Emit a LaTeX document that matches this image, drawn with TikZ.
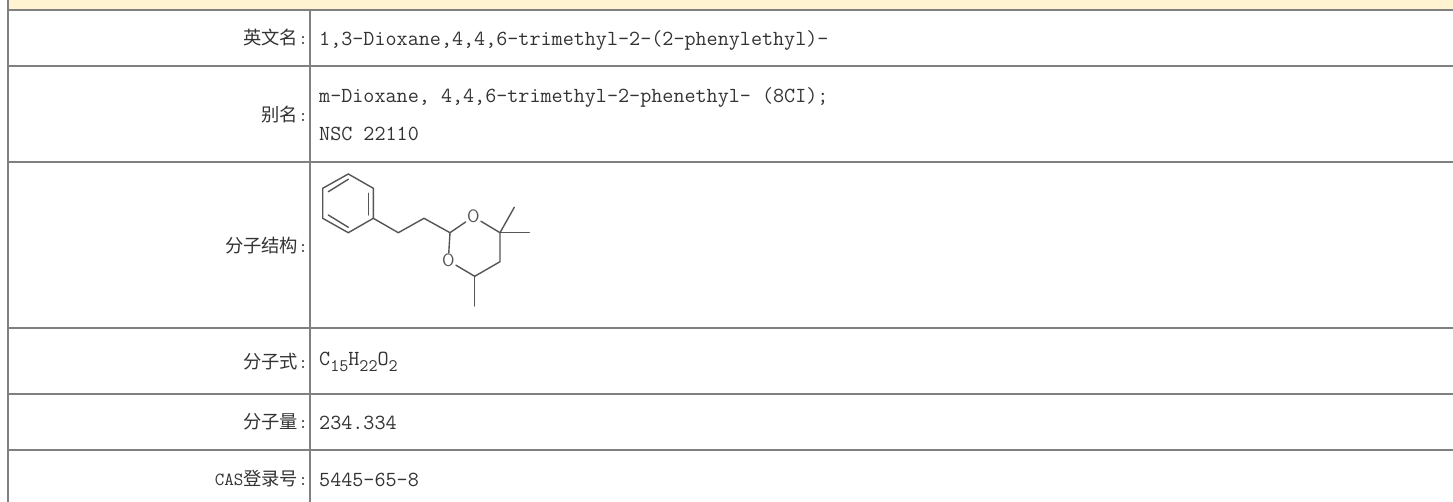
\documentclass[tikz,border=0pt]{standalone}
\usepackage{fontspec}
\setmainfont{Liberation Serif}
\newfontfamily\cjk{Noto Sans CJK SC}
\setmonofont{Latin Modern Mono}
\definecolor{rule}{HTML}{808080}
\definecolor{band}{HTML}{FFF3D2}
\definecolor{ink}{HTML}{333333}
\definecolor{bond}{HTML}{555555}
\tikzset{
  gridline/.style={draw=rule,line width=2pt},
  labeltext/.style={anchor=base east,inner sep=0pt,text=ink,font=\fontsize{18.3}{20}\selectfont\cjk},
  valuetext/.style={anchor=base west,inner sep=0pt,text=ink,font=\fontsize{21.5}{24}\selectfont\ttfamily},
  bondline/.style={draw=bond,line width=1.4pt,line cap=round},
  atomtext/.style={inner sep=1.2pt,text=bond,font=\fontsize{18}{18}\selectfont\sffamily},
}
\newcommand{\subsc}[1]{\raisebox{-6.5pt}{\fontsize{17.6}{18}\selectfont #1}}
\newcommand{\latn}[1]{{\fontsize{18.5}{20}\selectfont\ttfamily #1}}
\begin{document}
\begin{tikzpicture}[x=1pt,y=-1pt]
\useasboundingbox (0,0) rectangle (1453,502);
\fill[white] (0,0) rectangle (1453,502);
\fill[band] (8,0) rectangle (1453,9);
% grid
\draw[gridline] (8,0) -- (8,502);
\draw[gridline] (310,10) -- (310,502);
\foreach \yy in {10,66,162,328.5,394,450}{\draw[gridline] (7,\yy) -- (1453,\yy);}
% labels
\node[labeltext] (l1) at (308,44.5) {英文名\latn{:}};
\node[labeltext] (l2) at (308,121.5) {别名\latn{:}};
\node[labeltext] (l3) at (308,252.5) {分子结构\latn{:}};
\node[labeltext] (l4) at (308,368.5) {分子式\latn{:}};
\node[labeltext] (l5) at (308,428.5) {分子量\latn{:}};
\node[labeltext] (l6) at (308,485.5) {\latn{CAS}登录号\latn{:}};
% values
\node[valuetext] (v1) at (319,46) {1,3-Dioxane,4,4,6-trimethyl-2-(2-phenylethyl)-};
\node[valuetext] (v2a) at (319,103) {m-Dioxane, 4,4,6-trimethyl-2-phenethyl- (8CI);};
\node[valuetext] (v2b) at (319,141) {NSC 22110};
\node[valuetext] (v4) at (319,365) {C\subsc{15}H\subsc{22}O\subsc{2}};
\node[valuetext] (v5) at (319,429) {234.334};
\node[valuetext] (v6) at (319,486) {5445-65-8};
% molecule atoms
\coordinate (a1) at (348.3,174);
\coordinate (a2) at (373.3,188.3);
\coordinate (a3) at (373.3,218.3);
\coordinate (a4) at (348.3,232.7);
\coordinate (a5) at (322.7,218.3);
\coordinate (a6) at (322.7,188.3);
\coordinate (c1) at (398.3,232.7);
\coordinate (c2) at (424,218.3);
\coordinate (c3) at (450,232.7);
\node[atomtext] (o1) at (473.3,216.7) {O};
\coordinate (c4) at (500,232.7);
\coordinate (c5) at (500,261.7);
\coordinate (c6) at (474.7,276.3);
\node[atomtext] (o2) at (448.3,260.7) {O};
\coordinate (m1) at (514.3,207.3);
\coordinate (m2) at (529.3,232.7);
\coordinate (m3) at (474.7,306);
\coordinate (i1) at (328.3,191.7);
\coordinate (i2) at (348.3,179.3);
\coordinate (i3) at (368.3,193.3);
\coordinate (i4) at (368.3,215);
\coordinate (i5) at (328.3,215);
\coordinate (i6) at (348.3,227.3);
% bonds
\draw[bondline] (a1) -- (a2) -- (a3) -- (a4) -- (a5) -- (a6) -- cycle;
\draw[bondline] (i1) -- (i2);
\draw[bondline] (i3) -- (i4);
\draw[bondline] (i5) -- (i6);
\draw[bondline] (a3) -- (c1) -- (c2) -- (c3);
\draw[bondline] (c3) -- (o1);
\draw[bondline] (o1) -- (c4);
\draw[bondline] (c4) -- (c5) -- (c6);
\draw[bondline] (c6) -- (o2);
\draw[bondline] (o2) -- (c3);
\draw[bondline] (c4) -- (m1);
\draw[bondline] (c4) -- (m2);
\draw[bondline] (c6) -- (m3);
\end{tikzpicture}
\end{document}
